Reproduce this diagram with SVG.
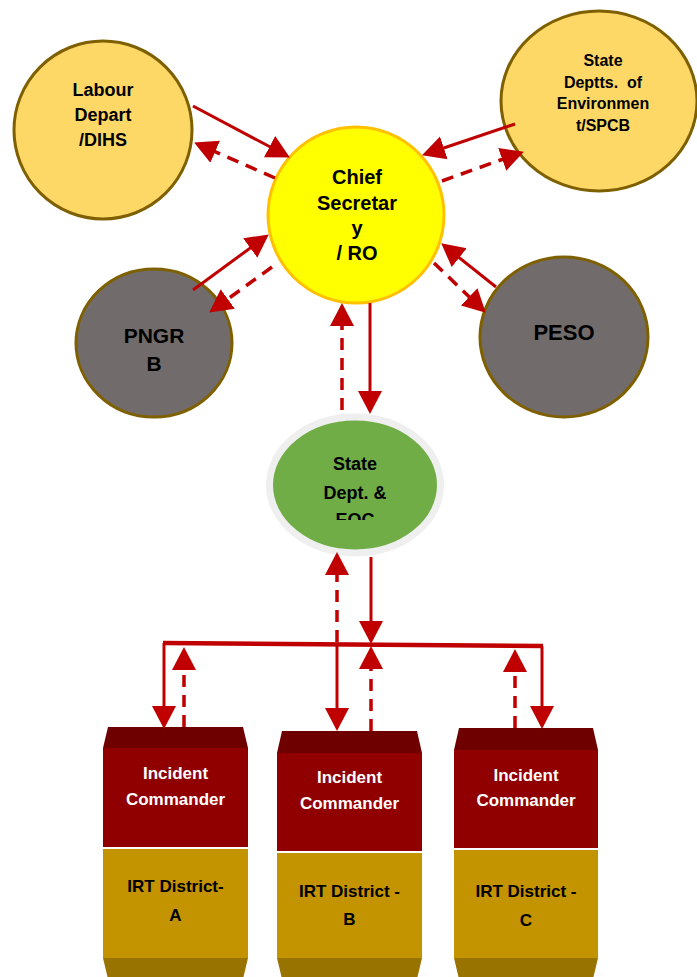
<svg xmlns="http://www.w3.org/2000/svg" width="697" height="977" viewBox="0 0 697 977">
<style>
.t{font-family:"Liberation Sans",Arial,sans-serif;font-weight:bold;text-anchor:middle;fill:#000}
.w{fill:#fff}
.tan{fill:#FDD866;stroke:#7F6000;stroke-width:3}
.gray{fill:#716C6B;stroke:#7F6000;stroke-width:3}
.s{fill:none;stroke:#C00000;stroke-width:3;marker-end:url(#ah)}
.d{fill:none;stroke:#C00000;stroke-width:3.5;stroke-dasharray:12 8;marker-end:url(#ah)}
.top{fill:#6E0000}.red{fill:#900000}.gold{fill:#C39300}.bot{fill:#997300}
</style>
<defs>
<marker id="ah" markerUnits="userSpaceOnUse" markerWidth="24" markerHeight="26" refX="11" refY="13" orient="auto" viewBox="0 0 24 26">
<path d="M0,1 L23,13 L0,25 z" fill="#C00000"/>
</marker>
<clipPath id="eocclip"><rect x="260" y="400" width="200" height="120"/></clipPath>
</defs>

<g id="labour">
<circle class="tan" cx="103" cy="130" r="89"/>
<text class="t" font-size="18" x="103" y="96">Labour</text>
<text class="t" font-size="18" x="103" y="121">Depart</text>
<text class="t" font-size="18" x="103" y="146">/DIHS</text>
</g>

<g id="state-env">
<ellipse class="tan" cx="599" cy="101" rx="98" ry="90"/>
<text class="t" font-size="16" x="603" y="66">State</text>
<text class="t" font-size="16" x="603" y="88" xml:space="preserve">Deptts.  of</text>
<text class="t" font-size="16" x="603" y="109">Environmen</text>
<text class="t" font-size="16" x="603" y="131">t/SPCB</text>
</g>

<g id="chief">
<circle cx="356" cy="215" r="88" fill="#FFFF00" stroke="#FFC000" stroke-width="3"/>
<text class="t" font-size="20" x="357" y="184">Chief</text>
<text class="t" font-size="20" x="357" y="210">Secretar</text>
<text class="t" font-size="20" x="357" y="235">y</text>
<text class="t" font-size="20" x="357" y="260">/ RO</text>
</g>

<g id="pngrb">
<ellipse class="gray" cx="154" cy="343" rx="78" ry="74"/>
<text class="t" font-size="21" x="154" y="343">PNGR</text>
<text class="t" font-size="21" x="154" y="371">B</text>
</g>

<g id="peso">
<ellipse class="gray" cx="564" cy="337" rx="84" ry="80"/>
<text class="t" font-size="22" x="564" y="340">PESO</text>
</g>

<g id="eoc">
<ellipse cx="355" cy="485" rx="85.5" ry="68" fill="#70AD47" stroke="#EFEFEF" stroke-width="7"/>
<g clip-path="url(#eocclip)">
<text class="t" font-size="18" x="355" y="470">State</text>
<text class="t" font-size="18" x="355" y="499">Dept. &amp;</text>
<text class="t" font-size="18" x="355" y="526">EOC</text>
</g>
</g>

<g id="district-a">
<path class="top" d="M108,727 L243,727 L248,748 L103,748 z"/>
<rect class="red" x="103" y="748" width="145" height="99"/>
<rect class="gold" x="103" y="849" width="145" height="109"/>
<path class="bot" d="M103,958 L248,958 L243,979 L108,979 z"/>
<text class="t w" font-size="17" x="175.5" y="779">Incident</text>
<text class="t w" font-size="17" x="175.5" y="805">Commander</text>
<text class="t" font-size="17" x="175.5" y="892">IRT District-</text>
<text class="t" font-size="17" x="175.5" y="921">A</text>
</g>

<g id="district-b">
<path class="top" d="M282,731 L417,731 L422,753 L277,753 z"/>
<rect class="red" x="277" y="753" width="145" height="98"/>
<rect class="gold" x="277" y="853" width="145" height="105"/>
<path class="bot" d="M277,958 L422,958 L417,979 L282,979 z"/>
<text class="t w" font-size="17" x="349.5" y="783">Incident</text>
<text class="t w" font-size="17" x="349.5" y="809">Commander</text>
<text class="t" font-size="17" x="349.5" y="897">IRT District -</text>
<text class="t" font-size="17" x="349.5" y="925">B</text>
</g>

<g id="district-c">
<path class="top" d="M459,728 L593,728 L598,750 L454,750 z"/>
<rect class="red" x="454" y="750" width="144" height="98"/>
<rect class="gold" x="454" y="850" width="144" height="108"/>
<path class="bot" d="M454,958 L598,958 L593,979 L459,979 z"/>
<text class="t w" font-size="17" x="526" y="781">Incident</text>
<text class="t w" font-size="17" x="526" y="806">Commander</text>
<text class="t" font-size="17" x="526" y="897">IRT District -</text>
<text class="t" font-size="17" x="526" y="926">C</text>
</g>

<g id="connectors">
<line class="s" x1="193" y1="106" x2="279.3" y2="151.8"/>
<line class="d" x1="275" y1="178" x2="205.1" y2="147.4"/>
<line class="s" x1="515" y1="124" x2="433.4" y2="151.5"/>
<line class="d" x1="442" y1="181" x2="512.6" y2="155.7"/>
<line class="s" x1="193" y1="290" x2="259.1" y2="241.5"/>
<line class="d" x1="272" y1="267" x2="218.9" y2="305.5"/>
<line class="s" x1="496" y1="287" x2="450.6" y2="250.8"/>
<line class="d" x1="434" y1="263" x2="477.1" y2="304.4"/>
<line class="s" x1="370" y1="303" x2="370" y2="402"/>
<line class="d" x1="342" y1="410" x2="342" y2="315"/>
<line class="s" x1="371" y1="557" x2="371" y2="632"/>
<line class="d" x1="337" y1="642" x2="337" y2="564"/>
<polyline points="163,643 543,646" fill="none" stroke="#C00000" stroke-width="4.5"/>
<line class="s" x1="164" y1="643" x2="164" y2="717"/>
<line class="d" x1="184" y1="727" x2="184" y2="659"/>
<line class="s" x1="337" y1="644" x2="337" y2="719"/>
<line class="d" x1="371" y1="731" x2="371" y2="658"/>
<line class="s" x1="542" y1="646" x2="542" y2="717"/>
<line class="d" x1="515" y1="728" x2="515" y2="661"/>
</g>
</svg>
